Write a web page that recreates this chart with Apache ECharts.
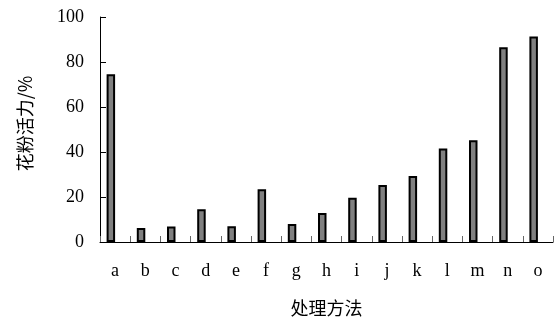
<!DOCTYPE html>
<html>
<head>
<meta charset="utf-8">
<script src="https://cdn.jsdelivr.net/npm/echarts@6/dist/echarts.min.js"></script>
<style>
  html, body { margin: 0; padding: 0; background: #fff; }
  #chart { width: 556px; height: 323px; }
</style>
</head>
<body>
<div id="chart"></div>
<script>
// Treatment groups and pollen viability (%)
const categories = ['a', 'b', 'c', 'd', 'e', 'f', 'g', 'h', 'i', 'j', 'k', 'l', 'm', 'n', 'o'];
const viability = [74.6, 6.2, 6.9, 14.6, 7.0, 23.4, 8.0, 12.9, 19.7, 25.3, 29.3, 41.6, 45.2, 86.6, 91.3];
const yTicks = [0, 20, 40, 60, 80, 100];

const serif = 'Liberation Serif, Times New Roman, serif';
const cjk = 'Noto Sans CJK SC, sans-serif';

const chart = echarts.init(document.getElementById('chart'), null, { renderer: 'canvas' });

chart.setOption({
  animation: false,
  backgroundColor: '#ffffff',
  grid: { left: 100, right: 3, top: 17, bottom: 81, containLabel: false },
  xAxis: {
    type: 'category',
    data: categories,
    name: '处理方法',
    nameLocation: 'middle',
    nameGap: 57,
    nameTextStyle: { fontFamily: cjk, fontSize: 18, color: '#000', padding: [0, 0, 0, 0] },
    axisLine: { lineStyle: { color: '#000', width: 1 } },
    axisTick: { show: true, inside: true, length: 6, lineStyle: { color: '#666' } },
    axisLabel: { fontFamily: serif, fontSize: 18, color: '#000', margin: 20 }
  },
  yAxis: {
    type: 'value',
    min: yTicks[0],
    max: yTicks[yTicks.length - 1],
    interval: yTicks[1] - yTicks[0],
    name: '花粉活力/%',
    nameLocation: 'middle',
    nameRotate: 90,
    nameGap: 66,
    nameTextStyle: { fontFamily: cjk, fontSize: 18, color: '#000', padding: [0, 0, 0, 12] },
    axisLine: { show: true, lineStyle: { color: '#000', width: 1 } },
    axisTick: { show: true, inside: true, length: 6, lineStyle: { color: '#000' } },
    axisLabel: { fontFamily: serif, fontSize: 18, color: '#000', margin: 16 },
    splitLine: { show: false }
  },
  series: [
    {
      type: 'bar',
      data: viability,
      barWidth: 8.5,
      barGap: '0%',
      itemStyle: { color: '#808080', borderColor: '#000', borderWidth: 2 }
    },
    {
      // empty companion slot: keeps each bar left of its category centre
      type: 'bar',
      data: [],
      barWidth: 8.5,
      silent: true
    }
  ]
});
</script>
</body>
</html>
